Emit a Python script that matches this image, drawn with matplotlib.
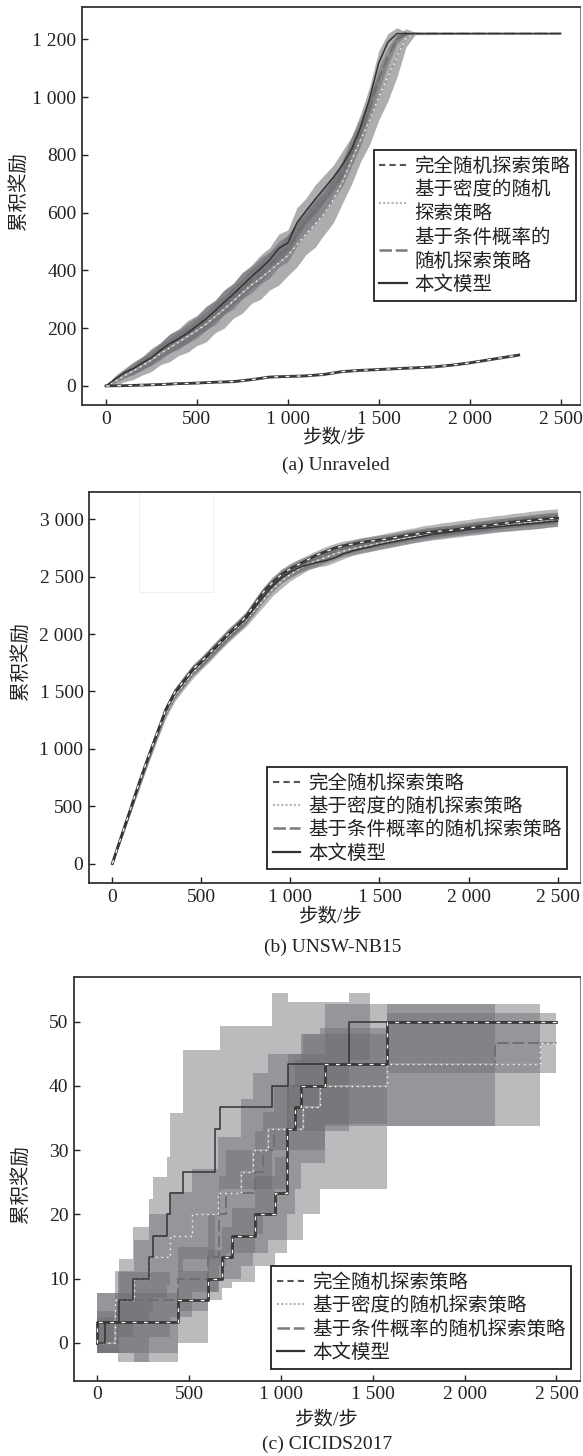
import matplotlib
matplotlib.use('Agg')
import matplotlib.pyplot as plt
from matplotlib.lines import Line2D
from matplotlib.patches import Rectangle
from matplotlib.ticker import FuncFormatter, MultipleLocator
from matplotlib.font_manager import FontProperties
import numpy as np

plt.rcParams['font.family'] = ['Liberation Serif', 'Noto Sans CJK SC']

# ------------------------------------------------------------------ data
LABELS_A = ['完全随机探索策略', '基于密度的随机\n探索策略', '基于条件概率的\n随机探索策略', '本文模型']
LABELS_BC = ['完全随机探索策略', '基于密度的随机探索策略', '基于条件概率的随机探索策略', '本文模型']
YLABEL = '累积奖励'
XLABEL = '步数/步'
CAPTIONS = ['(a) Unraveled', '(b) UNSW-NB15', '(c) CICIDS2017']

# (a) Unraveled
steps_a = [0, 50, 100, 150, 200, 250, 300, 350, 400, 450, 500, 550, 600, 650, 700, 750, 800, 850,
           900, 950, 1000, 1050, 1100, 1150, 1200, 1250, 1300, 1350, 1400, 1450, 1500, 1550, 1600,
           1650, 1700, 2500]
model_a = [0, 24, 46, 60, 80, 98, 124, 146, 164, 184, 208, 232, 260, 290, 318, 348, 378, 406, 436,
           476, 495, 565, 606, 646, 684, 722, 765, 818, 895, 996, 1118, 1190, 1220, 1220, 1220, 1220]
model_a_spread = [0, 12, 14, 22, 20, 27, 26, 33, 30, 36, 33, 40, 36, 42, 38, 45, 40, 47, 43, 50,
                  45, 52, 44, 50, 46, 42, 48, 44, 46, 40, 42, 30, 20, 6, 0, 0]
density_a = [0, 15, 35, 52, 70, 90, 112, 132, 152, 172, 192, 214, 240, 266, 294, 322, 350, 372, 398,
             425, 452, 490, 525, 560, 596, 645, 706, 780, 852, 920, 1000, 1070, 1139, 1205, 1220, 1220]
density_a_spread = [0, 16, 20, 30, 32, 40, 38, 48, 46, 55, 52, 62, 56, 66, 60, 70, 64, 72, 66, 76,
                    70, 78, 70, 80, 72, 80, 74, 82, 76, 84, 80, 84, 70, 32, 4, 0]
cond_a = [0, 20, 40, 56, 76, 94, 118, 140, 158, 178, 200, 224, 250, 280, 306, 336, 364, 390, 418,
          450, 476, 525, 570, 605, 640, 684, 735, 800, 872, 960, 1060, 1140, 1200, 1220, 1220, 1220]
cond_a_spread = [0, 8, 14, 14, 22, 20, 27, 24, 31, 28, 34, 30, 38, 32, 40, 34, 42, 38, 44, 38,
                 46, 40, 44, 40, 45, 38, 44, 40, 42, 38, 40, 30, 16, 4, 0, 0]
steps_ra = [0, 100, 200, 300, 400, 500, 600, 700, 800, 900, 1000, 1100, 1200, 1300, 1400, 1500,
            1600, 1700, 1800, 1900, 2000, 2100, 2200, 2270]
random_a = [0, 1, 3, 5, 8, 10, 13, 15, 22, 31, 33, 35, 40, 50, 54, 57, 60, 63, 66, 72, 80, 90, 100, 107]
random_a_spread = [0, 2, 3, 3, 3, 3, 3, 4, 4, 4, 4, 4, 4, 4, 4, 4, 4, 4, 4, 4, 4, 4, 4, 4]

# (b) UNSW-NB15
steps_b = [0, 50, 100, 150, 200, 250, 300, 350, 400, 450, 500, 550, 600, 650, 700, 750, 800, 850,
           900, 950, 1000, 1050, 1100, 1150, 1200, 1250, 1300, 1350, 1400, 1450, 1500, 1550, 1600,
           1650, 1700, 1750, 1800, 1850, 1900, 1950, 2000, 2050, 2100, 2150, 2200, 2250, 2300,
           2350, 2400, 2450, 2500]
model_b = [0, 230, 460, 690, 910, 1120, 1330, 1480, 1575, 1680, 1750, 1830, 1910, 1990, 2060, 2130,
           2230, 2330, 2420, 2490, 2540, 2580, 2605, 2625, 2640, 2665, 2700, 2725, 2745, 2760, 2780,
           2795, 2810, 2825, 2840, 2855, 2870, 2880, 2890, 2900, 2910, 2918, 2925, 2932, 2940, 2948,
           2955, 2962, 2968, 2978, 2985]
random_b = [0, 235, 465, 700, 920, 1130, 1340, 1490, 1590, 1690, 1760, 1840, 1920, 2000, 2070, 2150,
            2260, 2370, 2450, 2520, 2570, 2610, 2650, 2690, 2720, 2750, 2770, 2785, 2800, 2810, 2820,
            2830, 2845, 2860, 2870, 2880, 2890, 2900, 2905, 2915, 2925, 2935, 2945, 2955, 2965, 2975,
            2985, 2992, 3000, 3005, 3010]
density_b = [0, 225, 455, 680, 900, 1110, 1310, 1460, 1560, 1660, 1740, 1820, 1900, 1980, 2050, 2120,
             2210, 2300, 2390, 2460, 2520, 2570, 2610, 2640, 2670, 2700, 2725, 2745, 2760, 2775, 2790,
             2805, 2820, 2835, 2850, 2865, 2875, 2885, 2895, 2905, 2915, 2925, 2935, 2945, 2952, 2960,
             2968, 2975, 2985, 2995, 3000]
cond_b = [0, 232, 462, 695, 915, 1125, 1335, 1485, 1585, 1685, 1755, 1835, 1915, 1995, 2065, 2140,
          2245, 2350, 2435, 2505, 2555, 2595, 2630, 2660, 2690, 2720, 2745, 2765, 2785, 2800, 2815,
          2830, 2845, 2860, 2875, 2890, 2900, 2912, 2922, 2932, 2942, 2952, 2962, 2972, 2980, 2990,
          2998, 3006, 3015, 3022, 3030]
spread_b = [0, 15, 22, 25, 32, 30, 38, 35, 40, 35, 42, 38, 44, 40, 46, 42, 48, 45, 50, 46, 48, 44,
            42, 40, 44, 40, 42, 38, 42, 40, 44, 40, 42, 38, 42, 40, 44, 40, 42, 40, 44, 42, 44, 40,
            44, 42, 46, 44, 48, 46, 45]
spread_b_wide = [0, 20, 28, 35, 38, 42, 45, 48, 45, 50, 48, 54, 50, 55, 52, 56, 55, 58, 56, 60, 55,
                 58, 50, 54, 50, 52, 48, 54, 50, 52, 50, 54, 52, 55, 52, 56, 54, 57, 55, 58, 56, 60,
                 58, 60, 58, 62, 60, 64, 62, 64, 62]

# (c) CICIDS2017 (step curves)
c_rand_x = [0, 0, 440, 600, 680, 735, 860, 965, 1035, 1076, 1109, 1240, 1576, 2500]
c_rand_y = [0, 3.33, 6.67, 10, 13.33, 16.67, 20, 23.33, 33.33, 36.67, 40, 43.33, 50, 50]
c_rand_hi = [7.8, 7.8, 11.2, 14.5, 18, 21, 26, 29, 40, 44, 48, 48, 51.3, 51.3]
c_rand_lo = [-1.5, -1.5, 0, 6.7, 8.5, 9.5, 12, 14, 20, 24, 28, 34, 42, 42]

c_dens_x = [0, 96, 198, 283, 395, 513, 659, 780, 848, 930, 1119, 1212, 1576, 2411, 2500]
c_dens_y = [0, 6.67, 10, 13.33, 16.67, 20, 23.33, 26.67, 30, 33.33, 36.67, 40, 43.33, 46.67, 46.67]
c_dens_hi = [4, 11.2, 16, 20, 23.5, 27, 32, 38, 42, 45, 48, 49, 52.7, 52.7, 52.7]
c_dens_lo = [-1.5, -1.5, -3, 1, 4, 8, 10, 12, 14, 16, 20, 24, 33.8, 33.8, 33.8]

c_cond_x = [0, 110, 440, 600, 660, 700, 860, 900, 960, 1040, 1240, 2165, 2500]
c_cond_y = [0, 6.67, 10, 13.33, 20, 23.33, 26.67, 30, 33.33, 40, 43.33, 46.67, 46.67]
c_cond_hi = [5, 11, 15, 20, 26, 30, 33, 36, 40, 45, 52.7, 52.7, 52.7]
c_cond_lo = [-1.5, -3, 5, 8, 12, 14, 17, 20, 24, 30, 33.8, 33.8, 33.8]

c_model_x = [0, 40, 120, 195, 283, 303, 380, 396, 466, 640, 668, 949, 1040, 1372, 1484, 2500]
c_model_y = [0, 3.33, 6.67, 10, 13.33, 16.67, 20, 23.33, 26.67, 33.33, 36.67, 40, 43.33, 50, 50, 50]
c_model_hi = [7.8, 7.8, 13, 18.1, 22.4, 25.8, 29, 35.7, 45.6, 45.6, 49.3, 54.4, 53, 54.4, 54.4, 54.4]
c_model_lo = [-1.5, -1.5, 1, 3, 5, 7, 9, 11, 13, 20, 24, 30, 33, 44, 44, 44]

# ------------------------------------------------------------------ layout (pixels)
W, H = 583, 1456
fig = plt.figure(figsize=(W / 100, H / 100), dpi=100)

def add_axes(l, r, t, b):
    return fig.add_axes([l / W, 1 - b / H, (r - l) / W, (b - t) / H])

BAND = '#6a6a70'


def band(ax, x, lo, hi, alpha, step=False):
    ax.fill_between(x, lo, hi, step='post' if step else None, color=BAND, alpha=alpha,
                    lw=0, zorder=1)


def line(ax, x, y, kind, step=False):
    ds = 'steps-post' if step else 'default'
    if kind == 'random':
        ax.plot(x, y, color='#3a3a3a', lw=2.0, drawstyle=ds, zorder=4)
        ax.plot(x, y, color='white', lw=0.9, ls=(0, (3, 6)), drawstyle=ds, zorder=5)
    elif kind == 'density':
        ax.plot(x, y, color='#9a9a9a', lw=1.2, drawstyle=ds, zorder=3)
        ax.plot(x, y, color='white', lw=1.0, ls=(0, (1, 3)), drawstyle=ds, zorder=3)
    elif kind == 'cond':
        ax.plot(x, y, color='#707070', lw=1.4, ls=(0, (6, 2)), drawstyle=ds, zorder=3)
    else:
        ax.plot(x, y, color='#333333', lw=1.1, drawstyle=ds, zorder=4)


def style(ax, xlim, ylim, ystep):
    ax.set_xlim(*xlim)
    ax.set_ylim(*ylim)
    ax.xaxis.set_major_locator(MultipleLocator(500))
    ax.yaxis.set_major_locator(MultipleLocator(ystep))
    fmt = FuncFormatter(lambda v, p: f'{int(round(v)):,}'.replace(',', ' '))
    ax.xaxis.set_major_formatter(fmt)
    ax.yaxis.set_major_formatter(fmt)
    ax.tick_params(direction='in', length=4, width=1, labelsize=14, pad=4, colors='#222222',
                   top=False, right=False)
    for s in ['left', 'bottom', 'top']:
        ax.spines[s].set_color('#333333')
        ax.spines[s].set_linewidth(1.3)
    ax.spines['right'].set_color('#888888')
    ax.spines['right'].set_linewidth(0.8)


def texts(xl, cap, yl):
    fig.text(xl[0] / W, 1 - xl[1] / H, XLABEL, ha='center', va='center', fontsize=14,
             color='#222222')
    fig.text(cap[0] / W, 1 - cap[1] / H, cap[2], ha='center', va='center', fontsize=14,
             color='#222222')
    fig.text(yl[0] / W, 1 - yl[1] / H, YLABEL, ha='center', va='center', fontsize=14,
             rotation=90, color='#222222', family=['Noto Sans CJK SC'])


def legend(ax, labels, x, y):
    handles = [Line2D([], [], color='#555555', lw=1.5, ls=(0, (3, 2))),
               Line2D([], [], color='#b5b5b5', lw=1.5, ls=(0, (1, 1))),
               Line2D([], [], color='#7a7a7a', lw=1.8, ls=(0, (5, 1.5))),
               Line2D([], [], color='#333333', lw=1.6)]
    leg = ax.legend(handles, labels, loc='upper left', bbox_to_anchor=(x / W, 1 - y / H),
                    bbox_transform=fig.transFigure, frameon=True, fancybox=False,
                    edgecolor='#222222', framealpha=1, borderaxespad=0, borderpad=0.3,
                    labelspacing=0.12, handlelength=1.4, handletextpad=0.4,
                    prop=FontProperties(family=['Noto Sans CJK SC'], size=14))
    leg.get_frame().set_linewidth(1.3)
    for t in leg.get_texts():
        t.set_color('#222222')
    leg.set_zorder(10)


# ---------------- panel (a)
axA = add_axes(82, 580, 7, 405)
xa = np.array(steps_a)
for m, s in [(model_a, model_a_spread), (density_a, density_a_spread), (cond_a, cond_a_spread)]:
    m = np.array(m, float); s = np.array(s, float)
    band(axA, xa, m - s, m + s, 0.55)
ra = np.array(random_a, float); rs = np.array(random_a_spread, float)
band(axA, steps_ra, ra - rs, ra + rs, 0.4)
line(axA, steps_ra, random_a, 'random')
line(axA, xa, cond_a, 'cond')
line(axA, xa, density_a, 'density')
line(axA, xa, model_a, 'model')
style(axA, (-132, 2607), (-66, 1312), 200)
legend(axA, LABELS_A, 373.6, 150)
texts((335, 438), (336, 465, CAPTIONS[0]), (18.6, 191))

# ---------------- panel (b)
axB = add_axes(89, 580, 492, 883)
xb = np.array(steps_b)
sb = np.array(spread_b, float); sw = np.array(spread_b_wide, float)
for m, s in [(random_b, sb), (density_b, sw), (cond_b, sw), (model_b, sb)]:
    m = np.array(m, float)
    band(axB, xb, m - s, m + s, 0.48)
line(axB, xb, cond_b, 'cond')
line(axB, xb, density_b, 'density')
line(axB, xb, random_b, 'random')
line(axB, xb, model_b, 'model')
axB.add_patch(Rectangle((150, 2363), 416, 1000, fill=False, edgecolor='#f0f0f0', lw=0.8, zorder=0))
style(axB, (-131, 2626), (-169, 3238), 500)
legend(axB, LABELS_BC, 267, 766.7)
texts((331, 917), (333, 947, CAPTIONS[1]), (20, 660.7))

# ---------------- panel (c)
axC = add_axes(74, 580, 976.5, 1380.6)
for x, lo, hi, cut in [(c_dens_x, c_dens_lo, c_dens_hi, True),
                       (c_cond_x, c_cond_lo, c_cond_hi, True),
                       (c_model_x, c_model_lo, c_model_hi, True),
                       (c_rand_x, c_rand_lo, c_rand_hi, False)]:
    n = len(x) - 1 if cut else len(x)
    band(axC, x[:n], lo[:n], hi[:n], 0.45, step=True)
line(axC, c_cond_x, c_cond_y, 'cond', step=True)
line(axC, c_dens_x, c_dens_y, 'density', step=True)
line(axC, c_model_x, c_model_y, 'model', step=True)
line(axC, c_rand_x, c_rand_y, 'random', step=True)
style(axC, (-127, 2628), (-5.85, 57), 10)
legend(axC, LABELS_BC, 271, 1266)
texts((327, 1420), (327, 1444, CAPTIONS[2]), (20, 1183.7))

fig.savefig('out.png', dpi=100)
